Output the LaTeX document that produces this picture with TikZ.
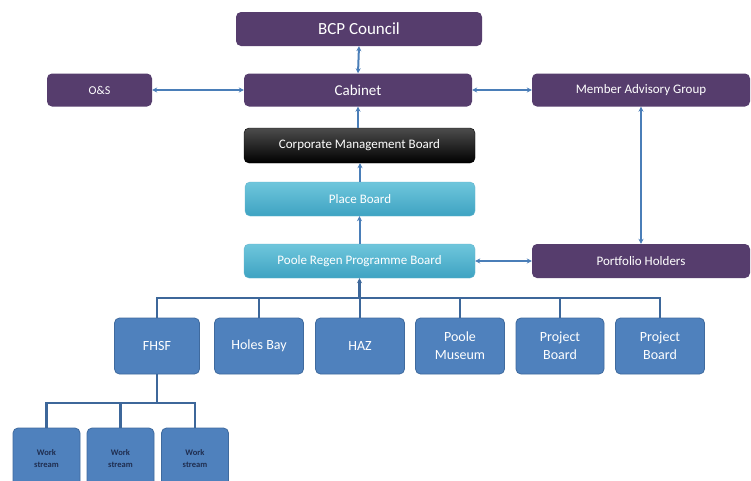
\documentclass[tikz,border=0pt]{standalone}
\usepackage{fontspec}
\setmainfont{Carlito}
\usetikzlibrary{arrows.meta}
\definecolor{purp}{HTML}{563D6D}
\definecolor{kidblue}{HTML}{4F81BD}
\definecolor{kidedge}{HTML}{3F6A9E}
\definecolor{arrblue}{HTML}{4A7EB8}
\definecolor{treeblue}{HTML}{3D679A}
\definecolor{ltop}{HTML}{6FC6DC}
\definecolor{lbot}{HTML}{3EA3C2}
\definecolor{navy}{HTML}{1F2D4F}
\tikzset{
  box/.style={rounded corners=5pt, inner sep=0pt, align=center, text=white},
  purplebox/.style={box, fill=purp},
  lightbox/.style={box, top color=ltop, bottom color=lbot, draw=lbot!80!white, line width=0.4pt},
  blackbox/.style={box, top color=black!70, bottom color=black, draw=black},
  kidbox/.style={box, fill=kidblue, draw=kidedge, line width=0.8pt, font=\fontsize{14}{18}\selectfont, minimum height=56pt},
  wsbox/.style={box, fill=kidblue, draw=kidedge, line width=0.8pt, text=navy, font=\bfseries\fontsize{8.5}{12}\selectfont, minimum width=67pt, minimum height=62pt},
  link/.style={arrblue, line width=2pt, {Stealth[length=5pt,width=5pt]}-{Stealth[length=5pt,width=5pt]}},
  uplink/.style={arrblue, line width=2pt, -{Stealth[length=5pt,width=5pt]}},
  tree/.style={treeblue, line width=2.5pt},
}
\begin{document}
\begin{tikzpicture}[x=1pt,y=-1pt]
\useasboundingbox (0,0) rectangle (751,480);
\fill[white] (0,0) rectangle (751,480);
% top level
\node[purplebox, minimum width=246pt, minimum height=34pt, font=\fontsize{17}{19}\selectfont] (bcp) at (359,29) {BCP Council};
\node[purplebox, minimum width=228pt, minimum height=33pt, font=\fontsize{15}{17}\selectfont] (cab) at (358,90) {Cabinet};
\node[purplebox, minimum width=105pt, minimum height=33pt, font=\fontsize{12}{14}\selectfont] (os) at (99.5,90) {O\&S};
\node[purplebox, minimum width=218pt, minimum height=33pt, font=\fontsize{13}{15}\selectfont] (mag) at (641,90) {Member Advisory Group};
\node[blackbox, minimum width=231pt, minimum height=35pt, font=\fontsize{13}{15}\selectfont] (cmb) at (359.5,145.5) {Corporate Management Board};
\node[lightbox, minimum width=230pt, minimum height=34pt, font=\fontsize{13}{15}\selectfont] (place) at (360,199) {Place Board};
\node[lightbox, minimum width=231pt, minimum height=34pt, font=\fontsize{13}{15}\selectfont] (prpb) at (359.5,261) {Poole Regen Programme Board};
\node[purplebox, minimum width=218pt, minimum height=34pt, font=\fontsize{13}{15}\selectfont] (port) at (641,261) {Portfolio Holders};
% children
\node[kidbox, minimum width=85pt] (fhsf) at (157,346) {FHSF};
\node[kidbox, minimum width=89pt] (holes) at (259,346) {Holes Bay};
\node[kidbox, minimum width=89pt] (haz) at (360,346) {HAZ};
\node[kidbox, minimum width=89pt] (mus) at (460,346) {Poole\\Museum};
\node[kidbox, minimum width=88pt] (pbone) at (560,346) {Project\\Board};
\node[kidbox, minimum width=89pt] (pbtwo) at (660,346) {Project\\Board};
% work streams
\node[wsbox] (wsone) at (46.5,459) {Work\\stream};
\node[wsbox] (wstwo) at (120.5,459) {Work\\stream};
\node[wsbox] (wsthree) at (195,459) {Work\\stream};
% arrows
\draw[link] (bcp.south) -- (cab.north);
\draw[link] (os.east) -- (cab.west);
\draw[link] (cab.east) -- (mag.west);
\draw[uplink] (cmb.north -| cab.south) -- (cab.south);
\draw[uplink] (place.north) -- (place.north |- cmb.south);
\draw[uplink] (prpb.north) -- (prpb.north |- place.south);
\draw[link] (prpb.east) -- (port.west);
\draw[link] (mag.south) -- (port.north);
% tree
\coordinate (bus) at (0,298);
\coordinate (wsbus) at (0,403);
\draw[tree] (fhsf.north) -- (fhsf.north |- bus) -- (pbtwo.north |- bus) -- (pbtwo.north);
\foreach \k in {holes,haz,mus,pbone} \draw[tree] (\k.north) -- (\k.north |- bus);
\draw[uplink, treeblue, line width=2.5pt] (prpb.south |- bus) -- (prpb.south);
\draw[tree] (fhsf.south) -- (fhsf.south |- wsbus);
\draw[tree] (wsone.north) -- (wsone.north |- wsbus) -- (wsthree.north |- wsbus) -- (wsthree.north);
\draw[tree] (wstwo.north) -- (wstwo.north |- wsbus);
\end{tikzpicture}
\end{document}
